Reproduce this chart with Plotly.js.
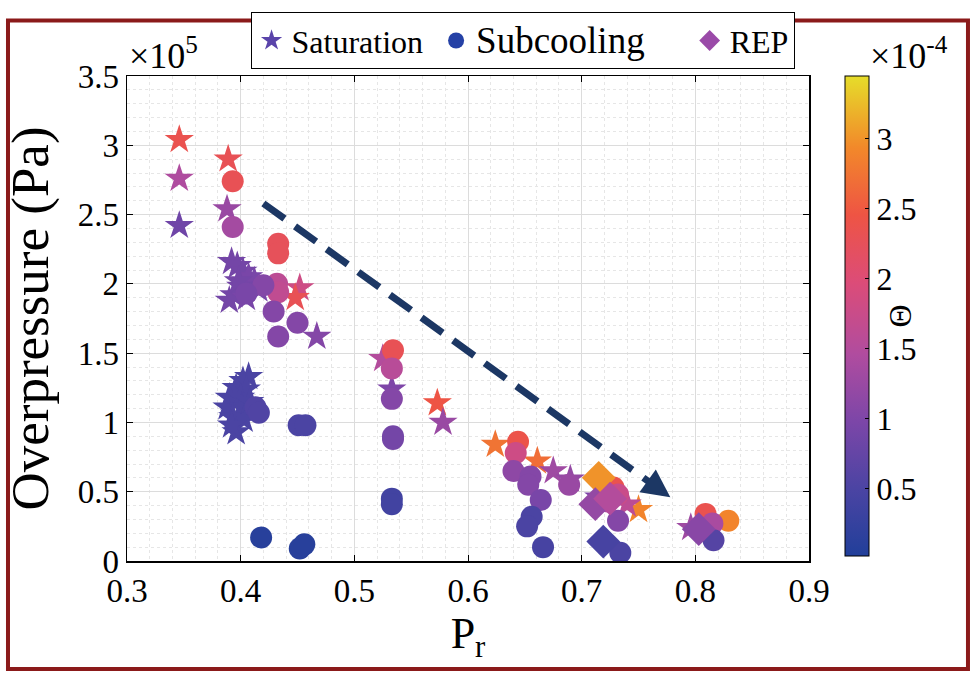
<!DOCTYPE html>
<html>
<head>
<meta charset="utf-8">
<script src="https://cdn.plot.ly/plotly-3.0.1.min.js"></script>
<style>
  html, body { margin: 0; padding: 0; background: #ffffff; }
  #chart { width: 973px; height: 676px; }
</style>
</head>
<body>
<div id="chart"></div>
<script>
// ---- Data (Overpressure in units of 1e5 Pa, Theta in units of 1e-4) ----
const satX = [0.346, 0.346, 0.346, 0.389, 0.388, 0.392,
  0.397, 0.402, 0.407, 0.412, 0.400, 0.394, 0.390, 0.405, 0.416, 0.398,
  0.452, 0.448, 0.467,
  0.407, 0.402, 0.396, 0.405, 0.390, 0.400, 0.388, 0.401, 0.393, 0.403, 0.396, 0.392, 0.408,
  0.525, 0.533, 0.573, 0.578,
  0.624, 0.661, 0.675, 0.690, 0.750, 0.740, 0.715, 0.796];
const satY = [3.04, 2.76, 2.42, 2.90, 2.54, 2.16,
  2.13, 2.09, 2.05, 2.02, 1.98, 1.92, 1.88, 1.90, 1.96, 2.02,
  1.97, 1.90, 1.62,
  1.33, 1.30, 1.25, 1.24, 1.18, 1.18, 1.11, 1.11, 1.04, 1.02, 0.93, 0.98, 1.15,
  1.46, 1.24, 1.14, 1.00,
  0.84, 0.72, 0.65, 0.59, 0.37, 0.41, 0.46, 0.24];
const satC = [2.35, 1.45, 0.85, 2.3, 1.25, 0.9,
  0.9, 0.9, 0.95, 0.95, 0.9, 0.9, 0.9, 0.95, 0.95, 0.9,
  1.8, 2.3, 1.05,
  0.5, 0.5, 0.5, 0.5, 0.5, 0.5, 0.5, 0.5, 0.5, 0.5, 0.5, 0.5, 0.5,
  1.5, 1.0, 2.45, 1.25,
  2.75, 2.7, 1.3, 1.2, 2.9, 1.6, 1.0, 1.3];

const subX = [0.393, 0.393, 0.433, 0.433, 0.432, 0.433, 0.420, 0.405, 0.429, 0.450, 0.433,
  0.413, 0.416, 0.451, 0.457, 0.418, 0.452, 0.456,
  0.534, 0.533, 0.533, 0.534, 0.534, 0.533, 0.533,
  0.644, 0.642, 0.640, 0.655, 0.653, 0.689, 0.664, 0.656, 0.652, 0.666,
  0.728, 0.732, 0.723, 0.732, 0.734,
  0.809, 0.829, 0.815, 0.816];
const subY = [2.74, 2.41, 2.29, 2.22, 2.00, 1.94, 1.99, 1.93, 1.80, 1.72, 1.62,
  1.11, 1.07, 0.98, 0.98, 0.17, 0.09, 0.12,
  1.52, 1.39, 1.17, 0.90, 0.88, 0.45, 0.41,
  0.86, 0.78, 0.65, 0.61, 0.55, 0.55, 0.44, 0.32, 0.25, 0.10,
  0.53, 0.48, 0.43, 0.29, 0.06,
  0.34, 0.29, 0.27, 0.15];
const subC = [2.3, 1.35, 2.25, 2.25, 1.6, 1.65, 1.05, 0.95, 1.05, 1.05, 1.05,
  0.55, 0.55, 0.5, 0.5, 0.1, 0.1, 0.1,
  2.3, 1.55, 1.05, 0.9, 0.9, 0.4, 0.4,
  2.4, 1.8, 1.15, 1.05, 1.05, 1.25, 0.95, 0.5, 0.5, 0.45,
  2.35, 1.75, 1.4, 1.05, 0.5,
  2.35, 2.9, 1.4, 0.6];

const repX = [0.715, 0.712, 0.719, 0.803, 0.725];
const repY = [0.60, 0.41, 0.14, 0.23, 0.45];
const repC = [3.0, 1.2, 0.45, 1.1, 1.5];

const legendNames = ['Saturation', 'Subcooling', 'REP'];
const xTicks = [0.3, 0.4, 0.5, 0.6, 0.7, 0.8, 0.9];
const yTicks = [0, 0.5, 1, 1.5, 2, 2.5, 3, 3.5];
const cTicks = [0.5, 1, 1.5, 2, 2.5, 3];

// trend arrow endpoints (data coordinates)
const arrowStart = [0.42, 2.58];
const arrowEnd = [0.778, 0.46];

// ---- Styling ----
const FONT = 'Liberation Serif, Times New Roman, serif';
const cscale = [
  [0.00, '#213f9a'], [0.14, '#4b44a3'], [0.28, '#7c46a8'], [0.42, '#b04c9f'],
  [0.57, '#dc4c78'], [0.71, '#ee5444'], [0.85, '#f2882a'], [1.00, '#e6dd2a']
];
const CMIN = 0.02, CMAX = 3.45;

function markerFor(c, symbol, size, showbar) {
  const m = { color: c, colorscale: cscale, cmin: CMIN, cmax: CMAX, symbol: symbol, size: size, line: { width: 0 }, opacity: 1 };
  if (showbar) {
    m.showscale = true;
    m.colorbar = {
      x: 1.0528, xanchor: 'left', xref: 'paper',
      y: 1, yanchor: 'top', len: 0.99, lenmode: 'fraction', ypad: 0, xpad: 0,
      thickness: 24, thicknessmode: 'pixels',
      outlinecolor: '#000', outlinewidth: 1,
      tickvals: cTicks, ticks: 'inside', ticklen: 4, tickcolor: '#000',
      tickfont: { family: FONT, size: 32, color: '#000' },
      title: { text: 'Θ', side: 'right', font: { family: FONT, size: 32, color: '#000' } }
    };
  }
  return m;
}

const traces = [
  { type: 'scatter', mode: 'markers', x: satX, y: satY, showlegend: false, hoverinfo: 'x+y',
    marker: markerFor(satC, 'star', 22, false) },
  { type: 'scatter', mode: 'markers', x: subX, y: subY, showlegend: false, hoverinfo: 'x+y',
    marker: markerFor(subC, 'circle', 22, true) },
  { type: 'scatter', mode: 'markers', x: repX, y: repY, showlegend: false, hoverinfo: 'x+y',
    marker: markerFor(repC, 'diamond', 26, false) },
  // legend entries
  { type: 'scatter', mode: 'markers', x: [null], y: [null], name: legendNames[0] + '&nbsp;',
    marker: { symbol: 'star', size: 16, color: '#5a44aa' } },
  { type: 'scatter', mode: 'markers', x: [null], y: [null], name: '<span style="font-size:37px">' + legendNames[1] + '</span>&nbsp;&nbsp;&nbsp;&nbsp;&nbsp;',
    marker: { symbol: 'circle', size: 16, color: '#2541a6' } },
  { type: 'scatter', mode: 'markers', x: [null], y: [null], name: legendNames[2],
    marker: { symbol: 'diamond', size: 16, color: '#9a4aa8' } }
];

const axisCommon = {
  showline: true, linecolor: '#000', linewidth: 1.5, mirror: 'ticks',
  ticks: 'inside', ticklen: 6, tickcolor: '#000',
  showgrid: true, gridcolor: '#dcdcdc', gridwidth: 1,
  zeroline: false,
  tickfont: { family: FONT, size: 33, color: '#000' }
};

const layout = {
  width: 973, height: 676,
  paper_bgcolor: '#ffffff', plot_bgcolor: '#ffffff',
  margin: { l: 127, r: 164, t: 63, b: 115 },
  font: { family: FONT, color: '#000' },
  xaxis: Object.assign({}, axisCommon, {
    range: [0.3, 0.9], tickvals: xTicks,
    minor: { dtick: 0.02, showgrid: true, gridcolor: '#e6e6e6', griddash: 'dot', gridwidth: 1 },
    title: { text: 'P<sub>r</sub>', font: { family: FONT, size: 44, color: '#000' }, standoff: 4 }
  }),
  yaxis: Object.assign({}, axisCommon, {
    range: [0, 3.5], tickvals: yTicks,
    minor: { dtick: 0.1, showgrid: true, gridcolor: '#e6e6e6', griddash: 'dot', gridwidth: 1 },
    title: { text: 'Overpressure (Pa)', font: { family: FONT, size: 53, color: '#000' }, standoff: 12 }
  }),
  legend: {
    orientation: 'h', x: 0.58, xanchor: 'center', y: 1.014, yanchor: 'bottom',
    bgcolor: '#ffffff', bordercolor: '#000', borderwidth: 1,
    font: { family: FONT, size: 32, color: '#000' },
    itemsizing: 'trace', tracegroupgap: 0, valign: 'middle'
  },
  annotations: [
    { xref: 'paper', yref: 'paper', x: 0, y: 0.995, xanchor: 'left', yanchor: 'bottom', showarrow: false,
      text: '×10<sup>5</sup>', font: { family: FONT, size: 36, color: '#000' } },
    { xref: 'paper', yref: 'paper', x: 1.0865, y: 0.995, xanchor: 'left', yanchor: 'bottom', showarrow: false,
      text: '×10<sup>-4</sup>', font: { family: FONT, size: 36, color: '#000' } },
    { xref: 'x', yref: 'y', axref: 'x', ayref: 'y', x: arrowEnd[0], y: arrowEnd[1],
      ax: arrowEnd[0] - (arrowEnd[0] - arrowStart[0]) * 0.07, ay: arrowEnd[1] - (arrowEnd[1] - arrowStart[1]) * 0.07,
      showarrow: true, arrowhead: 2, arrowsize: 0.8, arrowwidth: 7, arrowcolor: '#1c3764', text: '' }
  ],
  shapes: [
    { type: 'line', xref: 'x', yref: 'y',
      x0: arrowStart[0], y0: arrowStart[1],
      x1: arrowEnd[0] - (arrowEnd[0] - arrowStart[0]) * 0.07, y1: arrowEnd[1] - (arrowEnd[1] - arrowStart[1]) * 0.07,
      line: { color: '#1c3764', width: 7, dash: '26px,13px' } },
    { type: 'rect', xref: 'paper', yref: 'paper', x0: -0.1745, x1: 1.2331, y0: -0.2229, y1: 1.1145,
      line: { color: '#8b1a1a', width: 4 }, fillcolor: 'rgba(0,0,0,0)', layer: 'above' }
  ]
};

Plotly.newPlot('chart', traces, layout, { displayModeBar: false, staticPlot: true });
</script>
</body>
</html>
